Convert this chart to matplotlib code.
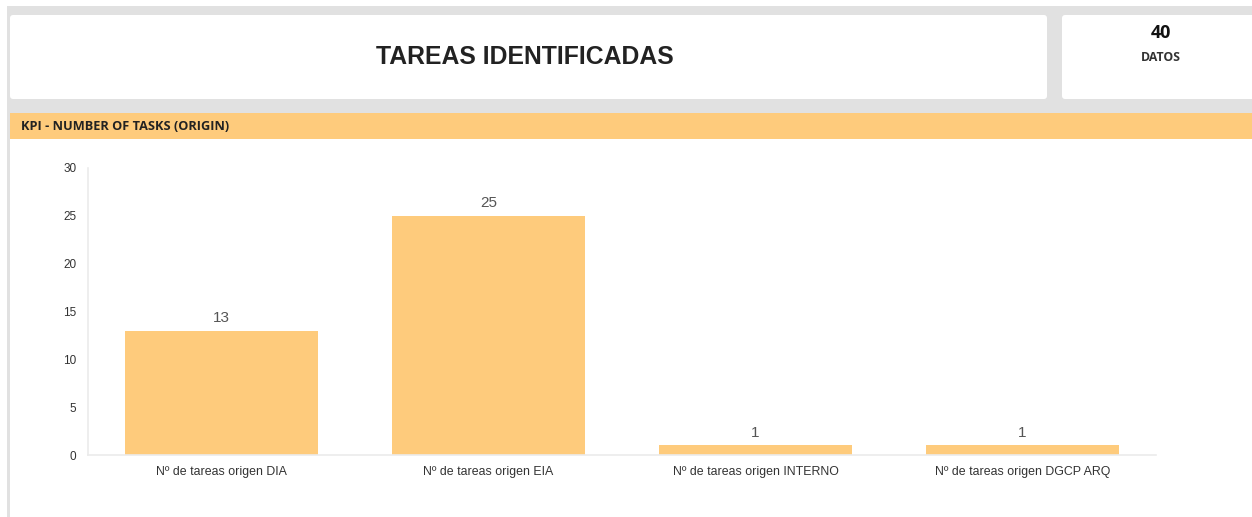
import matplotlib
matplotlib.use("Agg")
import matplotlib.pyplot as plt
from matplotlib.patches import FancyBboxPatch, Rectangle

categories = ["Nº de tareas origen DIA", "Nº de tareas origen EIA",
              "Nº de tareas origen INTERNO", "Nº de tareas origen DGCP ARQ"]
values = [13, 25, 1, 1]
yticks = [0, 5, 10, 15, 20, 25, 30]
title = "TAREAS IDENTIFICADAS"
kpi_value = "40"
kpi_label = "DATOS"
panel_title = "KPI - NUMBER OF TASKS (ORIGIN)"

W, H = 1252, 517
fig = plt.figure(figsize=(W / 100, H / 100), dpi=100)
fig.patch.set_facecolor("white")

# background layout axes in pixel coords
bg = fig.add_axes([0, 0, 1, 1])
bg.set_xlim(0, W)
bg.set_ylim(H, 0)
bg.axis("off")
gray = "#e1e1e1"
orange = "#fecb7c"
bg.add_patch(Rectangle((7, 6), W - 7, 108, color=gray, lw=0))
bg.add_patch(Rectangle((7, 6), 3, H, color=gray, lw=0))
bg.add_patch(FancyBboxPatch((10, 15), 1037, 84, boxstyle="round,pad=0,rounding_size=3",
                            fc="white", ec="none"))
bg.add_patch(FancyBboxPatch((1062, 15), 200, 84, boxstyle="round,pad=0,rounding_size=3",
                            fc="white", ec="none"))
bg.add_patch(Rectangle((10, 113), W - 10, 26, color=orange, lw=0))
bg.add_patch(Rectangle((10, 139), W - 10, H - 139, color="white", lw=0))

bg.text(525, 57.5, title, ha="center", va="center", fontsize=17.8, fontweight="bold",
        color="#222222", family="Liberation Sans")
bg.text(1161, 33.5, kpi_value, ha="center", va="center", fontsize=13, fontweight="bold",
        color="#111111", family="Open Sans")
bg.text(1161, 57.5, kpi_label, ha="center", va="center", fontsize=8.8, fontweight="bold",
        color="#333333", family="Open Sans")
bg.text(21, 126.5, panel_title, ha="left", va="center", fontsize=9.2, fontweight="bold",
        color="#222222", family="Open Sans")

# chart axes
x0, x1 = 88, 1156
y0, y1 = 455, 168
ax = fig.add_axes([x0 / W, (H - y0) / H, (x1 - x0) / W, (y0 - y1) / H])
ax.set_facecolor("none")
xs = list(range(len(categories)))
bars = ax.bar(xs, values, width=0.72, color=orange, zorder=2)
ax.set_xlim(-0.5, len(categories) - 0.5)
ax.set_ylim(0, 30)
ax.set_yticks(yticks)
ax.set_xticks(xs)
ax.set_xticklabels(categories, fontsize=8.9, color="#333333", family="Liberation Sans")
for lbl in ax.get_yticklabels():
    lbl.set_fontsize(8.5)
    lbl.set_color("#333333")
    lbl.set_family("Liberation Sans")
ax.tick_params(axis="both", length=0)
ax.tick_params(axis="y", pad=8.5)
ax.tick_params(axis="x", pad=8)
for s in ["top", "right"]:
    ax.spines[s].set_visible(False)
for s in ["left", "bottom"]:
    ax.spines[s].set_color("#ebebeb")
    ax.spines[s].set_linewidth(1.2)
for b, v in zip(bars, values):
    ax.annotate(str(v), (b.get_x() + b.get_width() / 2, v), xytext=(0, 4),
                textcoords="offset points", ha="center", va="bottom",
                fontsize=11, color="#555555", family="Liberation Sans")

fig.savefig("out.png", dpi=100)
